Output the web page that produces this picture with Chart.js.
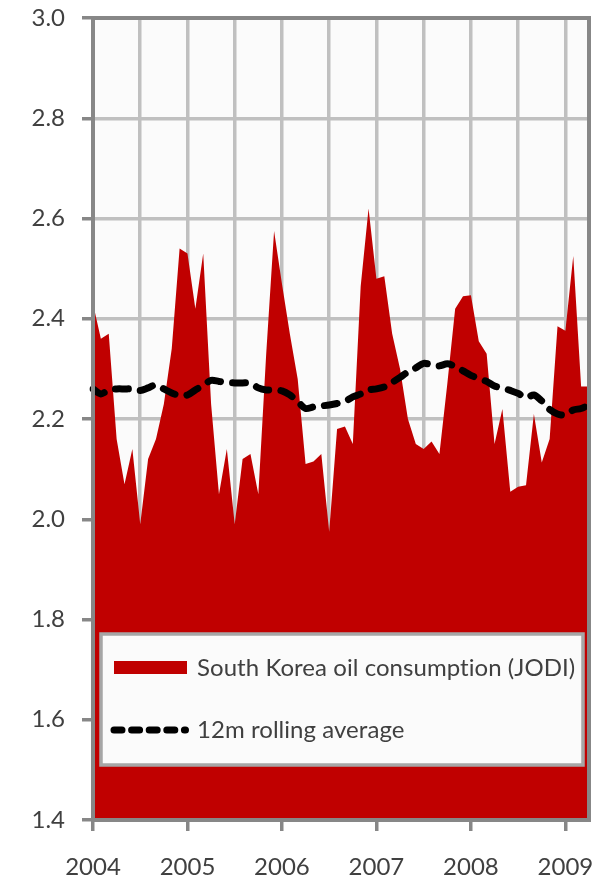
<!DOCTYPE html>
<html>
<head>
<meta charset="utf-8">
<title>South Korea oil consumption</title>
<script src="https://cdn.jsdelivr.net/npm/chart.js@4"></script>
<style>
  html, body { margin: 0; padding: 0; background: #ffffff; }
  #wrap { width: 609px; height: 880px; position: relative; }
  canvas { display: block; }
</style>
</head>
<body>
<div id="wrap"><canvas id="chart" width="609" height="880"></canvas></div>
<script>
// Monthly categories, Jan 2004 to Apr 2009
const months = [
  '2004-01','2004-02','2004-03','2004-04','2004-05','2004-06','2004-07','2004-08','2004-09','2004-10','2004-11','2004-12',
  '2005-01','2005-02','2005-03','2005-04','2005-05','2005-06','2005-07','2005-08','2005-09','2005-10','2005-11','2005-12',
  '2006-01','2006-02','2006-03','2006-04','2006-05','2006-06','2006-07','2006-08','2006-09','2006-10','2006-11','2006-12',
  '2007-01','2007-02','2007-03','2007-04','2007-05','2007-06','2007-07','2007-08','2007-09','2007-10','2007-11','2007-12',
  '2008-01','2008-02','2008-03','2008-04','2008-05','2008-06','2008-07','2008-08','2008-09','2008-10','2008-11','2008-12',
  '2009-01','2009-02','2009-03','2009-04'
];

// Oil consumption, million barrels per day (JODI)
const consumption = [
  2.43, 2.36, 2.37, 2.16, 2.07, 2.14, 1.99, 2.12, 2.16, 2.23, 2.34, 2.54,
  2.53, 2.42, 2.53, 2.23, 2.05, 2.14, 1.99, 2.12, 2.13, 2.05, 2.33, 2.575,
  2.47, 2.37, 2.28, 2.11, 2.115, 2.13, 1.975, 2.18, 2.185, 2.15, 2.465, 2.62,
  2.48, 2.485, 2.37, 2.30, 2.20, 2.15, 2.14, 2.155, 2.13, 2.27, 2.42, 2.445,
  2.447, 2.355, 2.33, 2.15, 2.22, 2.055, 2.065, 2.068, 2.21, 2.113, 2.16, 2.385,
  2.376, 2.525, 2.265, 2.265
];

// 12-month rolling average
const rollingAverage = [
  2.26, 2.25, 2.258, 2.26, 2.26, 2.26, 2.257, 2.262, 2.268, 2.26, 2.252, 2.247,
  2.248, 2.258, 2.267, 2.277, 2.275, 2.273, 2.272, 2.272, 2.272, 2.262, 2.258, 2.258,
  2.256, 2.248, 2.235, 2.221, 2.224, 2.226, 2.228, 2.231, 2.235, 2.244, 2.25, 2.258,
  2.26, 2.264, 2.273, 2.283, 2.294, 2.302, 2.311, 2.308, 2.306, 2.31, 2.305, 2.296,
  2.287, 2.281, 2.275, 2.266, 2.262, 2.257, 2.251, 2.242, 2.248, 2.236, 2.219, 2.21,
  2.208, 2.218, 2.221, 2.228
];

const yearLabels = ['2004', '2005', '2006', '2007', '2008', '2009'];
const yTicks = [1.4, 1.6, 1.8, 2.0, 2.2, 2.4, 2.6, 2.8, 3.0];

const seriesName = 'South Korea oil consumption (JODI)';
const averageName = '12m rolling average';

const RED = '#c00000';
const TEXT = '#404040';
const GRID = '#c0c0c0';
const AXIS = '#878787';

// Light plot background behind the grid
const plotBackground = {
  id: 'plotBackground',
  beforeDraw(chart) {
    const { ctx, chartArea: a } = chart;
    ctx.save();
    ctx.fillStyle = '#fbfbfb';
    ctx.fillRect(a.left, a.top, a.right - a.left, a.bottom - a.top);
    ctx.restore();
  }
};

// Frame around the plot, drawn over the filled area
const plotFrame = {
  id: 'plotFrame',
  afterDatasetsDraw(chart) {
    const { ctx, chartArea: a } = chart;
    ctx.save();
    ctx.strokeStyle = AXIS;
    ctx.lineWidth = 4;
    ctx.strokeRect(a.left, a.top, a.right - a.left, a.bottom - a.top);
    ctx.restore();
  }
};

// Boxed legend in the lower part of the plot
const boxLegend = {
  id: 'boxLegend',
  afterDraw(chart) {
    const { ctx, chartArea: a } = chart;
    const bx = a.left + 8, by = a.bottom - 186, bw = 482, bh = 131;
    ctx.save();
    ctx.fillStyle = '#fbfbfb';
    ctx.fillRect(bx, by, bw, bh);
    ctx.strokeStyle = '#a6a6a6';
    ctx.lineWidth = 3.5;
    ctx.strokeRect(bx, by, bw, bh);

    ctx.fillStyle = RED;
    ctx.fillRect(bx + 13, by + 27, 73, 13);

    ctx.strokeStyle = '#000000';
    ctx.lineWidth = 7;
    ctx.lineCap = 'round';
    ctx.setLineDash([8, 9.6]);
    ctx.beginPath();
    ctx.moveTo(bx + 13, by + 96);
    ctx.lineTo(bx + 84.5, by + 96);
    ctx.stroke();
    ctx.setLineDash([]);

    ctx.fillStyle = TEXT;
    ctx.font = '24px Lato';
    // a hair of tracking keeps the "ti" pair as two separate letters
    if ('letterSpacing' in ctx) ctx.letterSpacing = '0.05px';
    ctx.textAlign = 'left';
    ctx.textBaseline = 'alphabetic';
    ctx.fillText(seriesName, bx + 96, by + 42);
    ctx.fillText(averageName, bx + 96, by + 104);
    ctx.restore();
  }
};

function build() {
  Chart.defaults.font.family = 'Lato';
  Chart.defaults.color = TEXT;

  new Chart(document.getElementById('chart'), {
    type: 'line',
    data: {
      labels: months,
      datasets: [
        {
          label: averageName,
          data: rollingAverage,
          order: 0,
          borderColor: '#000000',
          borderWidth: 7,
          borderDash: [13, 12],
          borderCapStyle: 'round',
          borderJoinStyle: 'round',
          pointRadius: 0,
          tension: 0.3,
          fill: false
        },
        {
          label: seriesName,
          data: consumption,
          order: 1,
          borderWidth: 0,
          borderColor: RED,
          backgroundColor: RED,
          pointRadius: 0,
          tension: 0,
          fill: 'start'
        }
      ]
    },
    options: {
      responsive: false,
      animation: false,
      devicePixelRatio: 1,
      layout: { padding: { top: 18, right: 20, bottom: 0, left: 0 } },
      plugins: {
        legend: { display: false },
        tooltip: { enabled: false }
      },
      scales: {
        x: {
          type: 'category',
          offset: false,
          border: { display: false },
          grid: {
            color: ctx => (ctx.index % 6 === 0 ? GRID : 'rgba(0,0,0,0)'),
            lineWidth: 3.5,
            tickColor: ctx => (ctx.index % 12 === 0 ? AXIS : 'rgba(0,0,0,0)'),
            tickLength: 11,
            tickWidth: 3.5
          },
          ticks: {
            autoSkip: false,
            maxRotation: 0,
            padding: 22,
            color: TEXT,
            font: { size: 24 },
            callback: (value, index) => (index % 12 === 0 ? yearLabels[index / 12] : '')
          },
          afterFit: scale => {
            scale.height = 60;
            scale.paddingLeft = 0;
            scale.paddingRight = 0;
          }
        },
        y: {
          min: 1.4,
          max: 3.0,
          border: { display: false },
          afterBuildTicks: scale => { scale.ticks = yTicks.map(v => ({ value: v })); },
          grid: {
            color: GRID,
            lineWidth: 3.5,
            tickColor: AXIS,
            tickLength: 11,
            tickWidth: 3.5
          },
          ticks: {
            padding: 17,
            color: TEXT,
            font: { size: 24 },
            callback: v => Number(v).toFixed(1)
          },
          afterFit: scale => {
            scale.width = 93;
            scale.paddingTop = 0;
            scale.paddingBottom = 0;
          }
        }
      }
    },
    plugins: [plotBackground, plotFrame, boxLegend]
  });
}

if (document.fonts && document.fonts.load) {
  document.fonts.load('24px Lato').then(build, build);
} else {
  build();
}
</script>
</body>
</html>
